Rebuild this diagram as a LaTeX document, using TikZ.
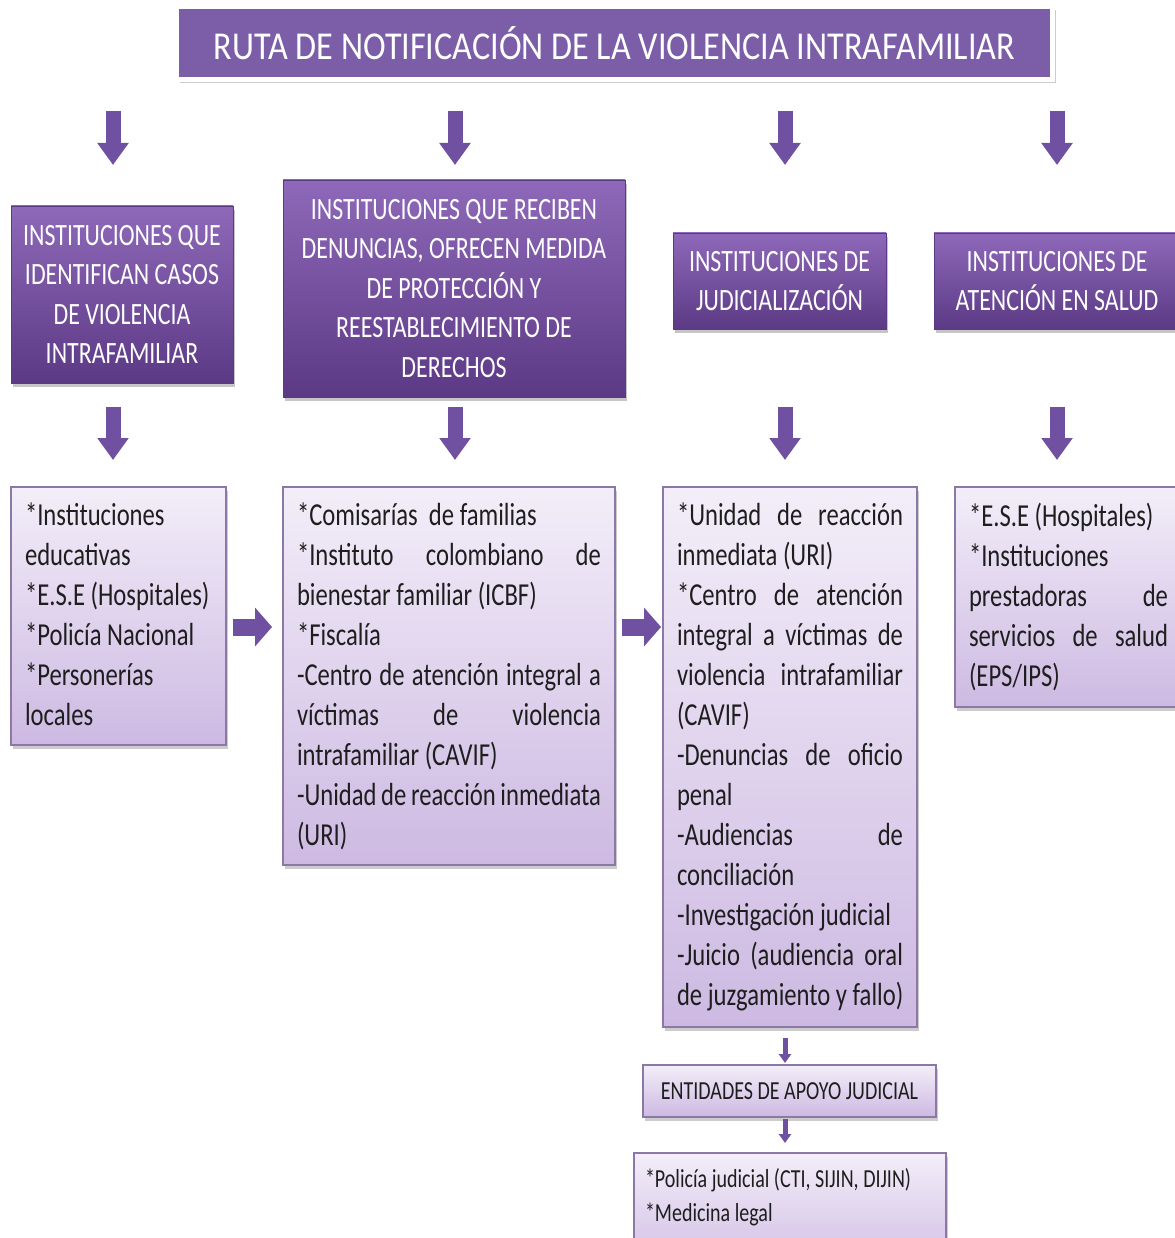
\documentclass[tikz,border=0pt]{standalone}
\usepackage{fontspec}
\setmainfont{Carlito}[FakeStretch=0.77]
\newfontfamily\titlefont{Carlito}[FakeStretch=0.865]
\usetikzlibrary{arrows.meta,shadows}
\definecolor{titlefill}{HTML}{7B5EA7}
\definecolor{hdtop}{HTML}{8E69B9}
\definecolor{hdbot}{HTML}{5C3985}
\definecolor{cttop}{HTML}{F3EEF9}
\definecolor{ctbot}{HTML}{CDB9E2}
\definecolor{ctline}{HTML}{8C78A6}
\definecolor{arrowc}{HTML}{7050A0}
\definecolor{txt}{HTML}{1E1E1E}
\newcommand{\Ll}[1]{\makebox[\linewidth][l]{#1}}
\newcommand{\Jl}[1]{\makebox[\linewidth][s]{#1}}
\begin{document}
\begin{tikzpicture}[x=1pt,y=-1pt,
  ttl/.style={fill=titlefill, draw=white, line width=5pt, minimum width=876pt, minimum height=73pt,
    inner sep=0pt, outer sep=0pt, text=white, font=\titlefont\fontsize{39.5}{44}\selectfont,
    drop shadow={shadow xshift=3pt, shadow yshift=-4pt, opacity=0.4}},
  hdr/.style={top color=hdtop, bottom color=hdbot, draw=hdbot, line width=0.8pt, text=white,
    align=center, font=\fontsize{31}{39.5}\selectfont, inner sep=0pt, outer sep=0pt,
    drop shadow={shadow xshift=2pt, shadow yshift=-4pt, opacity=0.45}},
  cnt/.style={top color=cttop, bottom color=ctbot, draw=ctline, line width=1.2pt, text=txt,
    inner xsep=14pt, inner ysep=10pt, outer sep=0pt, font=\fontsize{32}{40}\selectfont,
    drop shadow={shadow xshift=2pt, shadow yshift=-4pt, opacity=0.4}},
  dnarrow/.style={arrowc, line width=15pt, -{Triangle[width=30pt,length=22pt]}},
  rtarrow/.style={arrowc, line width=17pt, -{Triangle[width=38pt,length=17pt]}},
  smarrow/.style={arrowc, line width=5pt, -{Triangle[width=12pt,length=9pt]}}
]
\useasboundingbox (0,0) rectangle (1174,1238);

\coordinate (k1) at (113,0);
\coordinate (k2) at (455,0);
\coordinate (k3) at (785,0);
\coordinate (k4) at (1057,0);
\coordinate (arow) at (0,627);

\node[ttl] (title) at (614.5,43) {RUTA DE NOTIFICACIÓN DE LA VIOLENCIA INTRAFAMILIAR};

\node[hdr, minimum width=222pt, minimum height=177pt] (h1) at (122,294.5)
  {INSTITUCIONES QUE\\IDENTIFICAN CASOS\\DE VIOLENCIA\\INTRAFAMILIAR};
\node[hdr, minimum width=342pt, minimum height=217pt] (h2) at (454,288.5)
  {INSTITUCIONES QUE RECIBEN\\DENUNCIAS, OFRECEN MEDIDA\\DE PROTECCIÓN Y\\REESTABLECIMIENTO DE\\DERECHOS};
\node[hdr, minimum width=213pt, minimum height=96pt] (h3) at (779.5,281)
  {INSTITUCIONES DE\\JUDICIALIZACIÓN};
\node[hdr, minimum width=246pt, minimum height=96pt] (h4) at (1057,281)
  {INSTITUCIONES DE\\ATENCIÓN EN SALUD};

\node[cnt, anchor=north west] (c1) at (11,487) {\parbox[c][238pt][t]{187pt}{\vspace*{6pt}%
  \Ll{*Instituciones}\\\Ll{educativas}\\\Ll{*E.S.E (Hospitales)}\\\Ll{*Policía Nacional}\\%
  \Ll{*Personerías}\\\Ll{locales}}};
\node[cnt, anchor=north west] (c2) at (283,487) {\parbox[c][358pt][t]{304pt}{\vspace*{6pt}%
  \Ll{*Comisarías~ de familias}\\\Jl{*Instituto colombiano de}\\\Ll{bienestar familiar (ICBF)}\\%
  \Ll{*Fiscalía}\\\Jl{-Centro de atención integral a}\\\Jl{víctimas de violencia}\\%
  \Ll{intrafamiliar (CAVIF)}\\\Jl{-Unidad de reacción inmediata}\\\Ll{(URI)}}};
\node[cnt, anchor=north west] (c3) at (663,487) {\parbox[c][520pt][t]{226pt}{\vspace*{6pt}%
  \Jl{*Unidad de reacción}\\\Ll{inmediata (URI)}\\\Jl{*Centro de atención}\\%
  \Jl{integral a víctimas de}\\\Jl{violencia intrafamiliar}\\\Ll{(CAVIF)}\\%
  \Jl{-Denuncias de oficio}\\\Ll{penal}\\\Jl{-Audiencias de}\\\Ll{conciliación}\\%
  \Ll{-Investigación judicial}\\\Jl{-Juicio (audiencia oral}\\\Ll{de juzgamiento y fallo)}}};
\node[cnt, anchor=north west] (c4) at (955,487) {\parbox[c][200pt][t]{199pt}{\vspace*{6pt}%
  \Ll{*E.S.E (Hospitales)}\\\Ll{*Instituciones}\\\Jl{prestadoras de}\\%
  \Jl{servicios de salud}\\\Ll{(EPS/IPS)}}};

\node[cnt, inner sep=0pt, minimum width=293pt, minimum height=52pt, align=center,
  font=\fontsize{26}{32}\selectfont] (ent) at (789.5,1091) {ENTIDADES DE APOYO JUDICIAL};
\node[cnt, anchor=north west, inner xsep=11pt, inner ysep=8pt, font=\fontsize{26}{34}\selectfont]
  (fin) at (634,1153) {\parbox[c][110pt][t]{290pt}{\vspace*{7pt}%
  \Ll{*Policía judicial (CTI, SIJIN, DIJIN)}\\\Ll{*Medicina legal}}};

% arrows title -> headers
\draw[dnarrow, shorten <=31.5pt, shorten >=41pt] (title.south -| k1) -- (h1.north -| k1);
\draw[dnarrow, shorten <=31.5pt, shorten >=15pt] (title.south -| k2) -- (h2.north -| k2);
\draw[dnarrow, shorten <=31.5pt, shorten >=68pt] (title.south -| k3) -- (h3.north -| k3);
\draw[dnarrow, shorten <=31.5pt, shorten >=68pt] (title.south -| k4) -- (h4.north -| k4);
% arrows headers -> content
\draw[dnarrow, shorten <=24pt, shorten >=27pt] (h1.south -| k1) -- (c1.north -| k1);
\draw[dnarrow, shorten <=10pt, shorten >=27pt] (h2.south -| k2) -- (c2.north -| k2);
\draw[dnarrow, shorten <=78pt, shorten >=27pt] (h3.south -| k3) -- (c3.north -| k3);
\draw[dnarrow, shorten <=78pt, shorten >=27pt] (h4.south -| k4) -- (c4.north -| k4);
% horizontal arrows
\draw[rtarrow, shorten <=7pt, shorten >=11pt] (c1.east |- arow) -- (c2.west |- arow);
\draw[rtarrow, shorten <=7pt, shorten >=2pt] (c2.east |- arow) -- (c3.west |- arow);
% small arrows
\draw[smarrow, shorten <=11pt, shorten >=2pt] (c3.south -| k3) -- (ent.north -| k3);
\draw[smarrow, shorten <=2pt, shorten >=10pt] (ent.south -| k3) -- (fin.north -| k3);
\end{tikzpicture}
\end{document}
